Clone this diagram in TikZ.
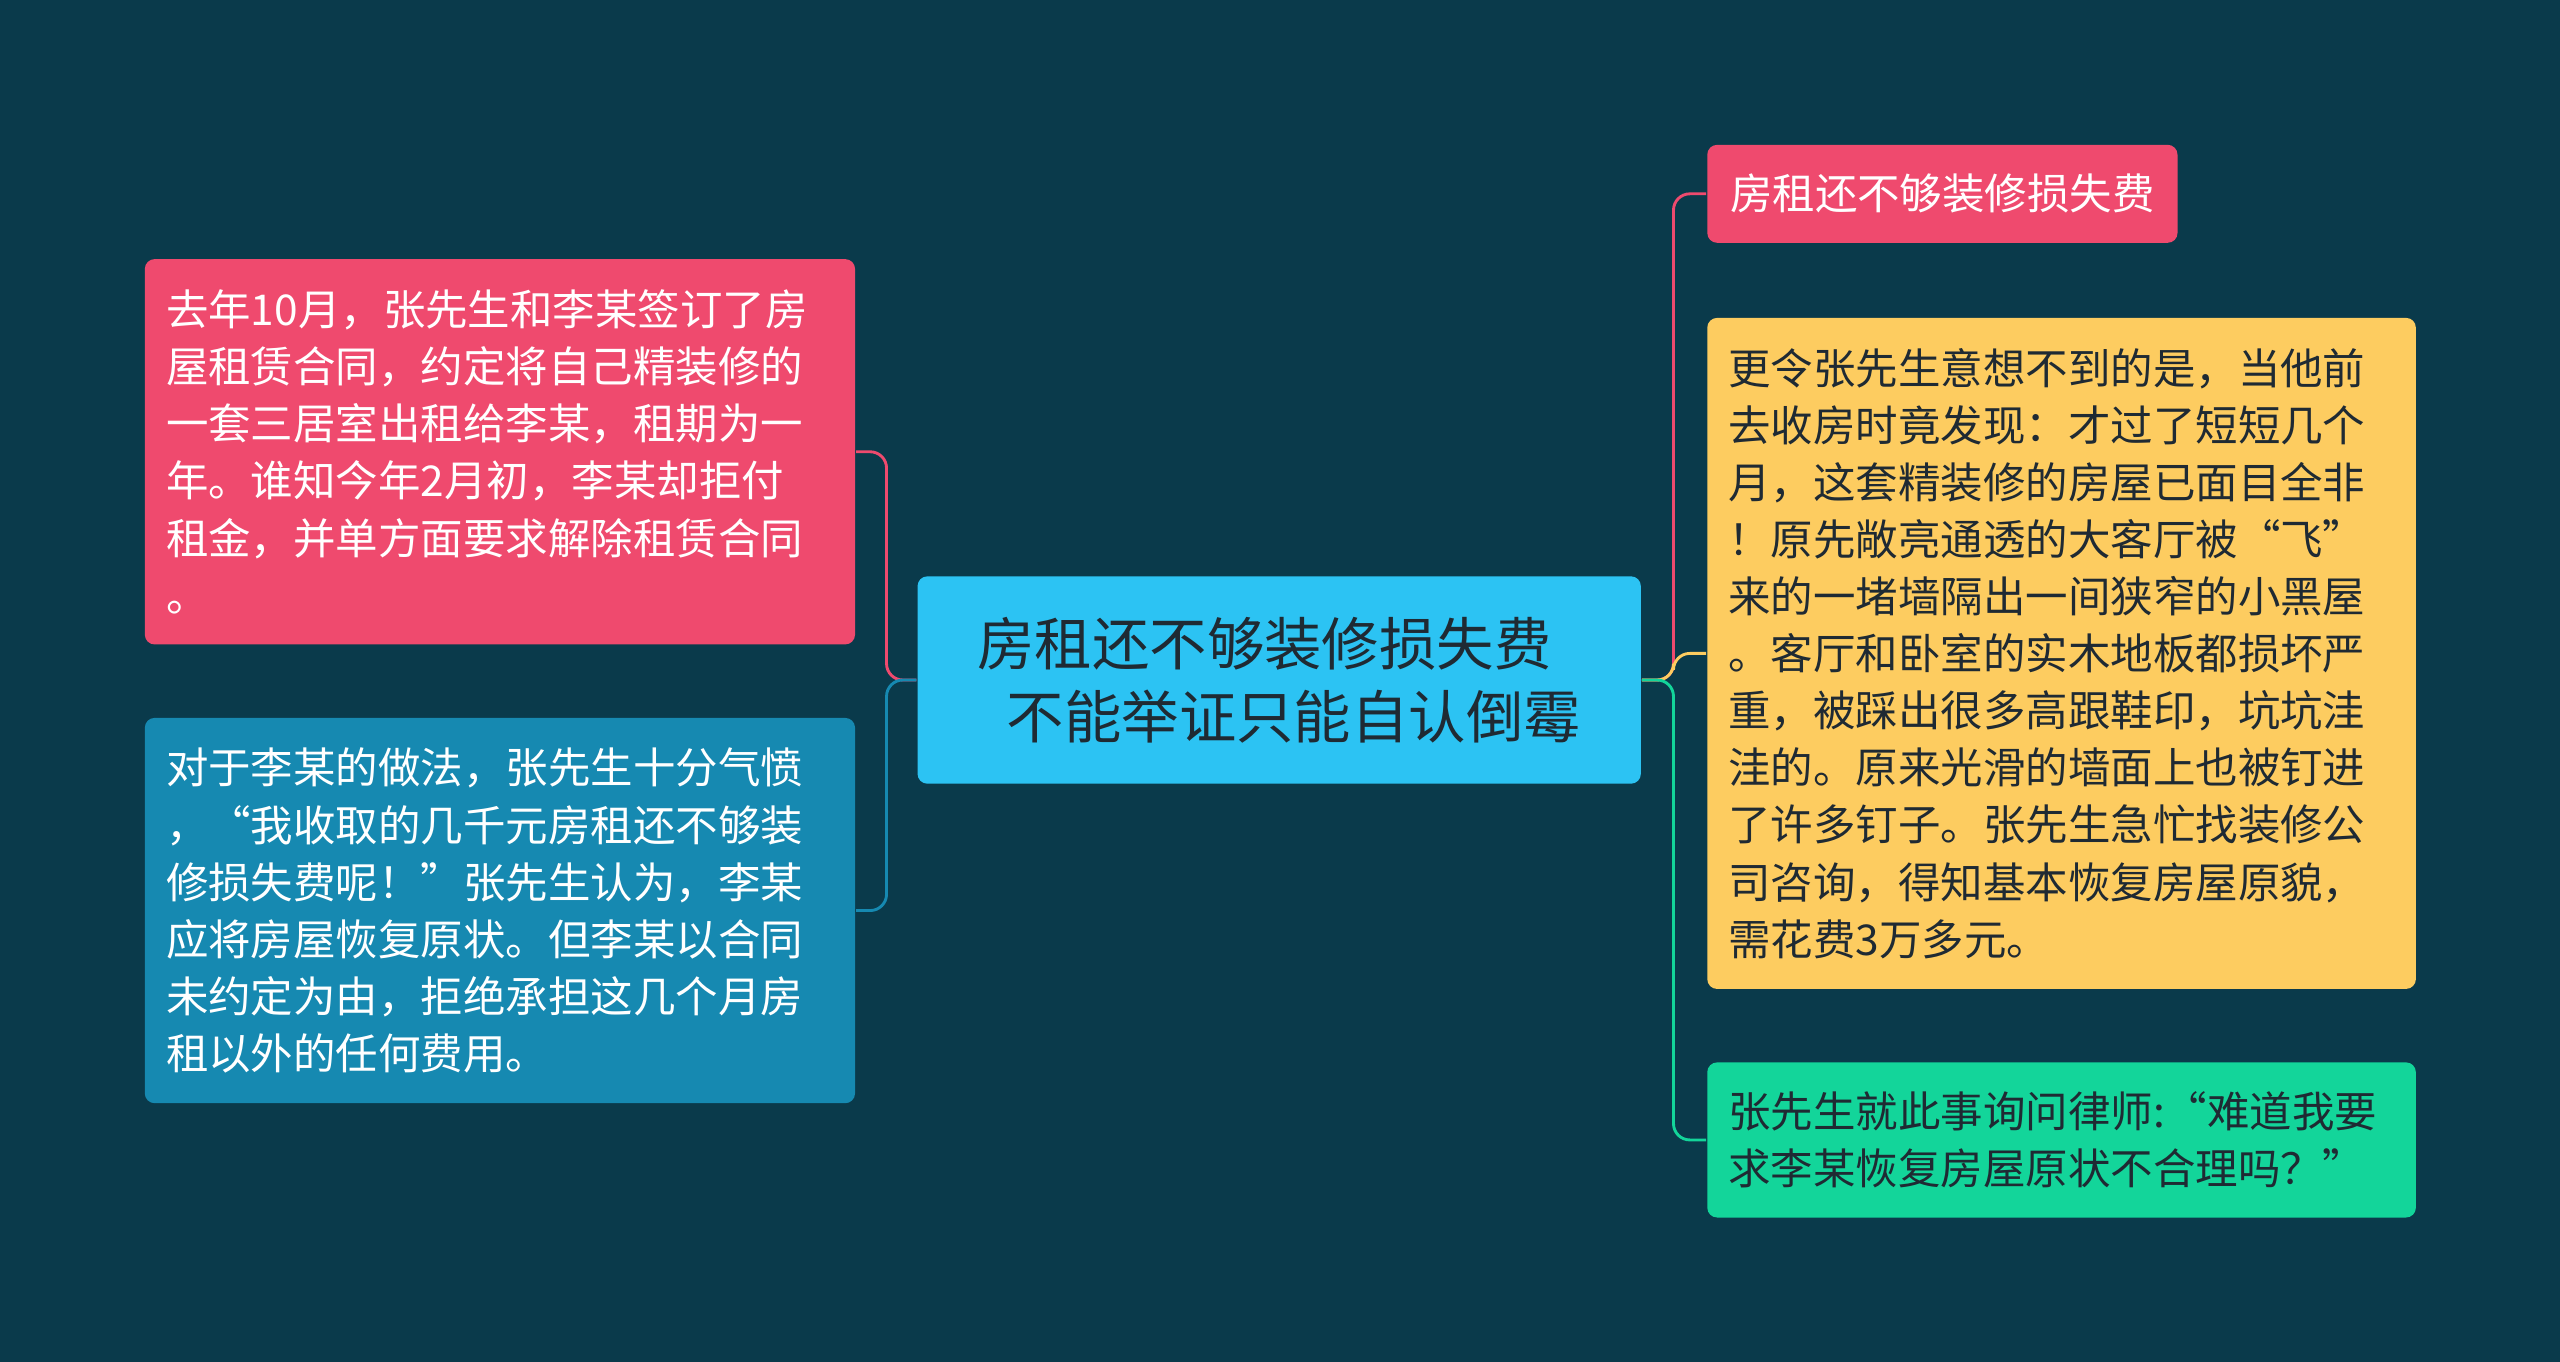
\documentclass[tikz,border=0pt]{standalone}
\usepackage{fontspec}
\setmainfont{Noto Sans CJK SC}
\usetikzlibrary{positioning}
\definecolor{bgc}{HTML}{0A3A4B}
\definecolor{redc}{HTML}{EF4A6E}
\definecolor{bluec}{HTML}{1689B1}
\definecolor{skyc}{HTML}{2CC3F3}
\definecolor{yelc}{HTML}{FDCC60}
\definecolor{grnc}{HTML}{13D59A}
\definecolor{inkc}{HTML}{1F2A33}
\tikzset{
  leaf/.style={rounded corners=0.6mm, inner sep=0.13cm, align=left,
    font=\fontsize{7.4}{9.95}\selectfont, anchor=north west},
  link/.style={line width=0.5pt, rounded corners=1mm}
}
\begin{document}
\begin{tikzpicture}
  \fill[bgc] (0,0) rectangle (15.68,-8.34);
  \useasboundingbox (0,0) rectangle (15.68,-8.34);

  % centre topic
  \node[fill=skyc, rounded corners=0.6mm, minimum width=4.43cm, minimum height=1.27cm,
    align=left, text=inkc, font=\fontsize{10}{12.8}\selectfont] (root) at (7.835,-4.165)
    {房租还不够装修损失费\\\hspace{0.18cm}不能举证只能自认倒霉};

  % left side
  \node[leaf, fill=redc, text=white, text width=4.09cm, minimum height=2.36cm] (fact)
    at (0.88,-1.58)
    {去年10月，张先生和李某签订了房\\屋租赁合同，约定将自己精装修的\\一套三居室出租给李某，租期为一\\年。谁知今年2月初，李某却拒付\\租金，并单方面要求解除租赁合同\\。};
  \node[leaf, fill=bluec, text=white, text width=4.09cm, minimum height=2.36cm] (angry)
    at (0.88,-4.39)
    {对于李某的做法，张先生十分气愤\\，“我收取的几千元房租还不够装\\修损失费呢！”张先生认为，李某\\应将房屋恢复原状。但李某以合同\\未约定为由，拒绝承担这几个月房\\租以外的任何费用。};

  % right side
  \node[leaf, fill=redc, text=white, minimum width=2.88cm, minimum height=0.6cm,
    inner sep=0.12cm] (title) at (10.45,-0.88) {房租还不够装修损失费};
  \node[leaf, fill=yelc, text=inkc, text width=4.08cm, minimum height=4.11cm] (damage)
    at (10.45,-1.94)
    {更令张先生意想不到的是，当他前\\去收房时竟发现：才过了短短几个\\月，这套精装修的房屋已面目全非\\！原先敞亮通透的大客厅被“飞”\\来的一堵墙隔出一间狭窄的小黑屋\\。客厅和卧室的实木地板都损坏严\\重，被踩出很多高跟鞋印，坑坑洼\\洼的。原来光滑的墙面上也被钉进\\了许多钉子。张先生急忙找装修公\\司咨询，得知基本恢复房屋原貌，\\需花费3万多元。};
  \node[leaf, fill=grnc, text=inkc, text width=4.08cm, minimum height=0.95cm] (ask)
    at (10.45,-6.5)
    {张先生就此事询问律师:“难道我要\\求李某恢复房屋原状不合理吗？”};

  % connectors
  \draw[link, redc] (root.west) -- (5.43,-4.165) |- (fact.east);
  \draw[link, bluec] (root.west) -- (5.43,-4.165) |- (angry.east);
  \draw[link, redc] (root.east) -- (10.25,-4.165) |- (title.west);
  \draw[link, yelc] (root.east) -- (10.25,-4.165) |- (damage.west);
  \draw[link, grnc] (root.east) -- (10.25,-4.165) |- (ask.west);
\end{tikzpicture}
\end{document}
